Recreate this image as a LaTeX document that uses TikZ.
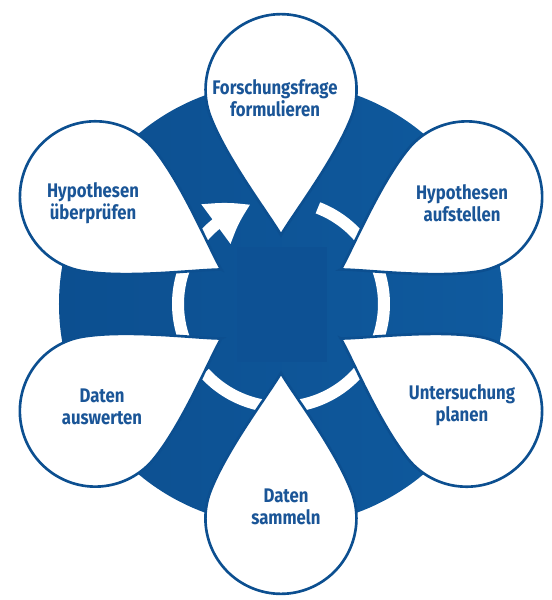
\documentclass[tikz,border=0pt]{standalone}
\usepackage{fontspec}
\setmainfont{Fira Sans}[FakeStretch=0.85]
\usetikzlibrary{arrows.meta,bending}
\usepackage{xcolor}

\definecolor{discblue}{HTML}{0C4F90}
\definecolor{discright}{HTML}{0F5A9E}
\definecolor{boxblue}{HTML}{0D5194}
\definecolor{inkblue}{HTML}{1A5597}

\begin{document}
\begin{tikzpicture}

\tikzset{drop/.style = {draw=discblue, fill=white, line width=1.5pt}}
\tikzset{ring/.style = {draw=white, line width=0.24cm}}
\tikzset{stage/.style = {text=inkblue, font=\bfseries\fontsize{11.2}{12.6}\selectfont, align=center}}

\useasboundingbox (-5.62,-5.92) rectangle (5.42,6.08);

%disc
\shade[left color=discblue, right color=discright] (0,0) circle (4.44);
\fill[boxblue] (-0.88,-1.16) rectangle (0.92,1.14);

%ring
\draw[ring] (40:2.06) arc[start angle=40, end angle=69, radius=2.06];
\draw[ring] (-20:2.06) arc[start angle=-20, end angle=20, radius=2.06];
\draw[ring] (-40:2.06) arc[start angle=-40, end angle=-85, radius=2.06];
\draw[ring] (-95:2.06) arc[start angle=-95, end angle=-138, radius=2.06];
\draw[ring] (160:2.06) arc[start angle=160, end angle=200, radius=2.06];
\draw[ring, -{Triangle[length=0.8cm, width=0.92cm, bend]}] (148:2.06) arc[start angle=148, end angle=107, radius=2.06];

%drops
\foreach \a in {0,60,...,300}
  \draw[drop, rotate=\a] (0,1.38) .. controls (0.25,1.81) and (1.10,2.92) .. (1.42,3.77)
    arc[start angle=-20, end angle=200, radius=1.51] .. controls (-1.10,2.92) and (-0.25,1.81) .. cycle;

%labels
\node[stage] (frage) at (-0.12,4.12) {Forschungsfrage\\formulieren};
\node[stage] (aufstellen) at (3.62,2.02) {Hypothesen\\aufstellen};
\node[stage] (planen) at (3.62,-2.02) {Untersuchung\\planen};
\node[stage] (sammeln) at (0.10,-4.06) {Daten\\sammeln};
\node[stage] (auswerten) at (-3.58,-2.06) {Daten\\auswerten};
\node[stage] (ueberpruefen) at (-3.76,2.02) {Hypothesen\\überprüfen};
\end{tikzpicture}
\end{document}
